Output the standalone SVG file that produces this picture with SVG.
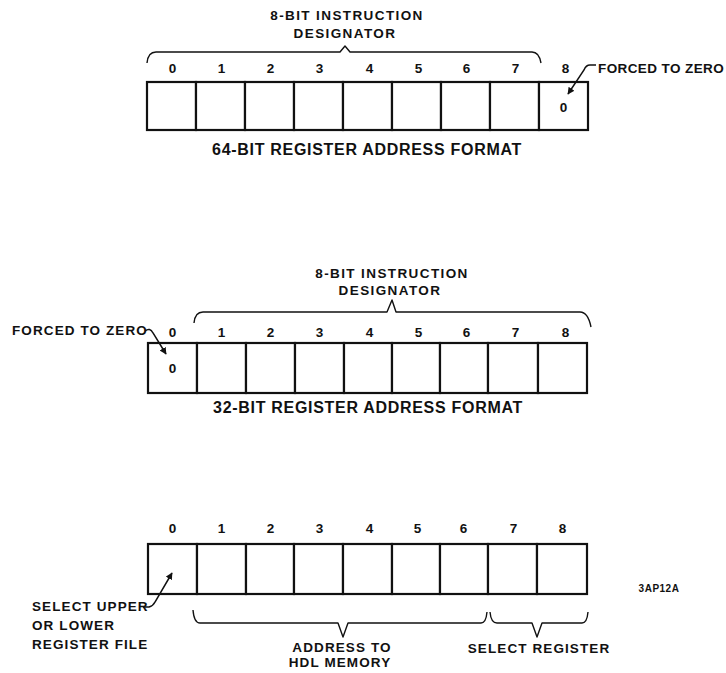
<svg xmlns="http://www.w3.org/2000/svg" width="726" height="673" viewBox="0 0 726 673">
<style>
text{font-family:"Liberation Sans",Arial,sans-serif;font-weight:bold;font-size:13.5px;letter-spacing:1.1px;fill:#111}
.c{text-anchor:middle}
.t{font-size:16px;letter-spacing:0.7px}
.h{letter-spacing:1.4px}
.d{font-size:14.5px}
.cell{fill:#fff;stroke:#111;stroke-width:2.2}
.br{fill:none;stroke:#111;stroke-width:1.4;stroke-linejoin:round}
.ld{fill:none;stroke:#111;stroke-width:1.5}
.sm{font-size:10px;letter-spacing:0.5px}
</style>
<defs>
<marker id="ah" viewBox="0 0 10 10" refX="9" refY="5" markerWidth="7" markerHeight="7" orient="auto" markerUnits="userSpaceOnUse">
<path d="M0,0 L10,5 L0,10 z" fill="#111"/>
</marker>
</defs>
<rect width="726" height="673" fill="#fff"/>

<g id="reg64">
<text class="c h" x="347" y="20">8-BIT INSTRUCTION</text>
<text class="c h" x="345" y="38">DESIGNATOR</text>
<path class="br" d="M147,63 Q148,52 156,52 L340,52 L345,46 L350,52 L532,52 Q539,52 541,63"/>
<g class="c d">
<text x="173" y="73">0</text><text x="222" y="73">1</text><text x="271" y="73">2</text><text x="320" y="73">3</text><text x="370" y="73">4</text><text x="419" y="73">5</text><text x="467" y="73">6</text><text x="516" y="73">7</text><text x="566" y="73">8</text>
</g>
<rect class="cell" x="147" y="82" width="49" height="48"/><rect class="cell" x="196" y="82" width="49" height="48"/><rect class="cell" x="245" y="82" width="49" height="48"/><rect class="cell" x="294" y="82" width="49" height="48"/><rect class="cell" x="343" y="82" width="49" height="48"/><rect class="cell" x="392" y="82" width="49" height="48"/><rect class="cell" x="441" y="82" width="49" height="48"/><rect class="cell" x="490" y="82" width="49" height="48"/><rect class="cell" x="539" y="82" width="49" height="48"/>
<text class="c" x="564" y="112">0</text>
<text x="598" y="73" style="letter-spacing:0.4px">FORCED TO ZERO</text>
<text class="c t" x="367" y="155">64-BIT REGISTER ADDRESS FORMAT</text>
</g>

<g id="reg32">
<text class="c h" x="392" y="278">8-BIT INSTRUCTION</text>
<text class="c h" x="390" y="295">DESIGNATOR</text>
<path class="br" d="M194,323 Q195,312 203,312 L387,312 L392,300 L396,312 L580,312 Q588,312 591,327"/>
<g class="c d">
<text x="173" y="337">0</text><text x="222" y="337">1</text><text x="271" y="337">2</text><text x="320" y="337">3</text><text x="370" y="337">4</text><text x="419" y="337">5</text><text x="467" y="337">6</text><text x="516" y="337">7</text><text x="566" y="337">8</text>
</g>
<rect class="cell" x="148" y="343" width="49" height="50"/><rect class="cell" x="197" y="343" width="49" height="50"/><rect class="cell" x="246" y="343" width="49" height="50"/><rect class="cell" x="295" y="343" width="49" height="50"/><rect class="cell" x="344" y="343" width="48" height="50"/><rect class="cell" x="392" y="343" width="48" height="50"/><rect class="cell" x="440" y="343" width="48" height="50"/><rect class="cell" x="488" y="343" width="50" height="50"/><rect class="cell" x="538" y="343" width="49" height="50"/>
<text class="c" x="173" y="373">0</text>
<text x="12" y="335">FORCED TO ZERO</text>
<text class="c t" x="368" y="413">32-BIT REGISTER ADDRESS FORMAT</text>
</g>

<g id="regHDL">
<g class="c d">
<text x="173" y="533">0</text><text x="222" y="533">1</text><text x="271" y="533">2</text><text x="320" y="533">3</text><text x="370" y="533">4</text><text x="418" y="533">5</text><text x="464" y="533">6</text><text x="514" y="533">7</text><text x="563" y="533">8</text>
</g>
<rect class="cell" x="148" y="544" width="49" height="50"/><rect class="cell" x="197" y="544" width="49" height="50"/><rect class="cell" x="246" y="544" width="48" height="50"/><rect class="cell" x="294" y="544" width="49" height="50"/><rect class="cell" x="343" y="544" width="49" height="50"/><rect class="cell" x="392" y="544" width="48" height="50"/><rect class="cell" x="440" y="544" width="48" height="50"/><rect class="cell" x="488" y="544" width="49" height="50"/><rect class="cell" x="537" y="544" width="50" height="50"/>
<text x="32" y="611">SELECT UPPER</text>
<text x="32" y="630">OR LOWER</text>
<text x="32" y="649">REGISTER FILE</text>
<path class="br" d="M193,610 Q194,623 200,623 L338,623 L343,637 L348,623 L481,623 Q486,623 487,612"/>
<path class="br" d="M490,612 Q491,623 497,623 L532,623 L537,637 L542,623 L582,623 Q587,623 588,612"/>
<text class="c" x="342" y="652">ADDRESS TO</text>
<text class="c" x="340" y="667">HDL MEMORY</text>
<text class="c" x="539" y="653">SELECT REGISTER</text>
<text class="c sm" x="659" y="592">3AP12A</text>
</g>

<g id="connectors">
<path class="ld" d="M596,65 L590,65 Q586,65 584,70 L568,94" marker-end="url(#ah)"/>
<path class="ld" d="M145,331 Q150,327 153,333 L166,354" marker-end="url(#ah)"/>
<path class="ld" d="M143,607 L149,607 Q153,606 155,602 L172,573" marker-end="url(#ah)"/>
</g>
</svg>
